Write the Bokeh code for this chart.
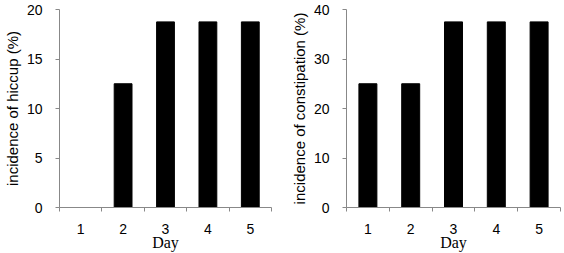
from bokeh.plotting import figure
from bokeh.layouts import row
from bokeh.models import Range1d, FixedTicker
from bokeh.embed import file_html
from bokeh.resources import INLINE

days = [1, 2, 3, 4, 5]
day_labels = ["1", "2", "3", "4", "5"]
hiccup = [0, 12.5, 18.75, 18.75, 18.75]
constipation = [25, 25, 37.5, 37.5, 37.5]

AX = "#888888"


def make(values, ymax, ystep, ylabel, left, right):
    p = figure(width=282, height=253, output_backend="svg", toolbar_location=None,
               x_range=Range1d(0.5, 5.5), y_range=Range1d(0, ymax),
               min_border_left=left, min_border_right=right,
               min_border_top=9, min_border_bottom=45)
    p.outline_line_color = None
    p.grid.visible = False
    p.vbar(x=days, top=values, width=0.42, fill_color="black", line_color="black")

    xa = p.xaxis[0]
    xa.ticker = FixedTicker(ticks=days, minor_ticks=[d - 0.5 for d in days] + [5.5])
    xa.major_label_overrides = {d: s for d, s in zip(days, day_labels)}
    xa.major_tick_out = 0
    xa.major_tick_in = 0
    xa.minor_tick_out = 4
    xa.minor_tick_in = 0
    xa.minor_tick_line_color = AX
    xa.axis_line_color = AX
    xa.major_label_text_font = "Liberation Sans"
    xa.major_label_text_font_size = "14px"
    xa.major_label_text_color = "black"
    xa.major_label_standoff = 12
    xa.axis_label = "Day"
    xa.axis_label_text_font = "Liberation Serif"
    xa.axis_label_text_font_style = "normal"
    xa.axis_label_text_font_size = "16px"
    xa.axis_label_text_color = "black"
    xa.axis_label_standoff = -3

    ya = p.yaxis[0]
    ya.ticker = FixedTicker(ticks=list(range(0, ymax + 1, ystep)), minor_ticks=[])
    ya.major_tick_out = 4
    ya.major_tick_in = 0
    ya.major_tick_line_color = AX
    ya.axis_line_color = AX
    ya.major_label_text_font = "Liberation Sans"
    ya.major_label_text_font_size = "14px"
    ya.major_label_text_color = "black"
    ya.major_label_standoff = 13
    ya.axis_label = ylabel
    ya.axis_label_text_font = "Liberation Sans"
    ya.axis_label_text_font_style = "normal"
    ya.axis_label_text_font_size = "15px"
    ya.axis_label_text_color = "black"
    ya.axis_label_standoff = 3
    return p


p1 = make(hiccup, 20, 5, "incidence of hiccup (%)", 56, 11)
p2 = make(constipation, 40, 10, "incidence of constipation (%)", 64, 4)
layout = row(p1, p2)
open("out.html", "w").write(file_html(layout, INLINE))
